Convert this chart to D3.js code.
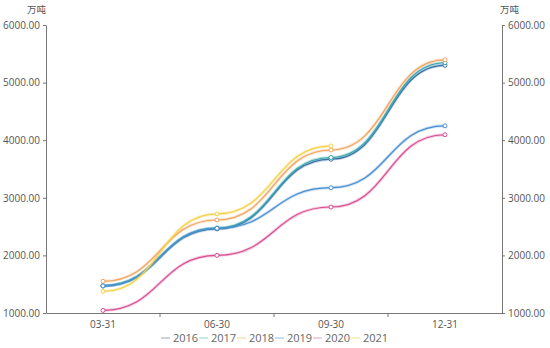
<!DOCTYPE html>
<html>
<head>
<meta charset="utf-8">
<script src="https://cdn.jsdelivr.net/npm/d3@7"></script>
<style>
  body { margin: 0; background: #fff; }
  text { font-family: "Open Sans", "Noto Sans", "Noto Sans CJK SC", sans-serif; }
</style>
</head>
<body>
<svg id="chart" width="550" height="348"></svg>
<script>
// data (万吨, cumulative by quarter)
const categories = ['03-31', '06-30', '09-30', '12-31'];
const years = ['2016', '2017', '2018', '2019', '2020', '2021'];
const s2016 = [1470, 2460, 3670, 5300];
const s2017 = [1475, 2475, 3700, 5345];
const s2018 = [1550, 2615, 3830, 5395];
const s2019 = [1470, 2470, 3175, 4250];
const s2020 = [1045, 2000, 2840, 4095];
const s2021 = [1375, 2720, 3900];
const yTicks = [1000, 2000, 3000, 4000, 5000, 6000];

const seriesList = [s2016, s2017, s2018, s2019, s2020, s2021];
const colors = ['#3b6ea5', '#37a6b0', '#f2a35e', '#4a8fd0', '#d94f94', '#f5d24a'];
const legendColors = ['#cfd0dc', '#c8e8ec', '#f4ecc8', '#c4e2ec', '#f2d2de', '#f6f0c4'];

const margin = { top: 25, right: 48, bottom: 35, left: 46 };
const width = 550 - margin.left - margin.right;
const height = 348 - margin.top - margin.bottom;

const svg = d3.select('#chart');
const g = svg.append('g').attr('transform', `translate(${margin.left},${margin.top})`);

const x = d3.scaleBand().domain(categories).range([0, width]);
const y = d3.scaleLinear().domain([1000, 6000]).range([height, 0]);
const px = d => x(d) + x.bandwidth() / 2;

// axes
const fmt = d3.format('.2f');
const styleAxis = sel => {
  sel.select('.domain').attr('stroke', '#777');
  sel.selectAll('.tick line').attr('stroke', '#777');
  sel.selectAll('.tick text').attr('fill', '#555').style('font-size', '10px');
};

g.append('g')
  .call(d3.axisLeft(y).tickValues(yTicks).tickFormat(fmt).tickSize(3).tickSizeOuter(0))
  .call(styleAxis);
g.append('g')
  .attr('transform', `translate(${width},0)`)
  .call(d3.axisRight(y).tickValues(yTicks).tickFormat(fmt).tickSize(3).tickSizeOuter(0))
  .call(styleAxis);

const xAxis = g.append('g')
  .attr('transform', `translate(0,${height})`)
  .call(d3.axisBottom(x).tickSize(0).tickPadding(8))
  .call(styleAxis);
// boundary ticks between categories
xAxis.selectAll('.bound')
  .data(categories.slice(1))
  .enter().append('line')
  .attr('x1', d => x(d)).attr('x2', d => x(d))
  .attr('y1', 0).attr('y2', 4)
  .attr('stroke', '#777');

// unit labels
g.append('text').attr('x', 0).attr('y', -12).attr('text-anchor', 'end')
  .attr('fill', '#555').style('font-size', '9.5px').text('万吨');
g.append('text').attr('x', width - 2).attr('y', -12).attr('text-anchor', 'start')
  .attr('fill', '#555').style('font-size', '9.5px').text('万吨');

// lines
const line = d3.line()
  .x((d, i) => px(categories[i]))
  .y(d => y(d))
  .curve(d3.curveBumpX);

seriesList.forEach((s, k) => {
  g.append('path').datum(s)
    .attr('fill', 'none')
    .attr('stroke', colors[k])
    .attr('stroke-opacity', 0.3)
    .attr('stroke-width', 3)
    .attr('d', line);
  g.append('path').datum(s)
    .attr('fill', 'none')
    .attr('stroke', colors[k])
    .attr('stroke-width', 1.2)
    .attr('d', line);
  g.selectAll(null).data(s).enter().append('circle')
    .attr('cx', (d, i) => px(categories[i]))
    .attr('cy', d => y(d))
    .attr('r', 2)
    .attr('fill', '#fff')
    .attr('stroke', colors[k])
    .attr('stroke-width', 1);
});

// legend
const legend = svg.append('g').attr('transform', 'translate(161,338)');
const item = legend.selectAll('g').data(years).enter().append('g')
  .attr('transform', (d, i) => `translate(${i * 38},0)`);
item.append('line')
  .attr('x1', 0).attr('x2', 9).attr('y1', 0).attr('y2', 0)
  .attr('stroke', (d, i) => legendColors[i]).attr('stroke-width', 2);
item.append('text')
  .attr('x', 12).attr('y', 4)
  .attr('fill', '#666').style('font-size', '11px')
  .text(d => d);
</script>
</body>
</html>
